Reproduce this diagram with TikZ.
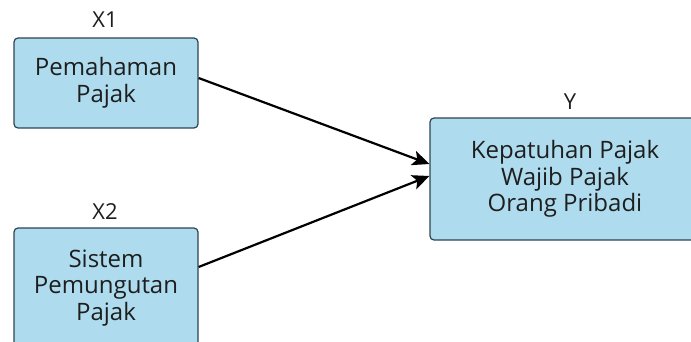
\documentclass[tikz,border=0pt]{standalone}
\usepackage{fontspec}
\setmainfont{Open Sans}
\usetikzlibrary{arrows.meta}
\definecolor{boxfill}{HTML}{AEDCEE}
\definecolor{boxline}{HTML}{2E4552}
\definecolor{txt}{HTML}{1E1E1E}
\tikzset{
  varbox/.style={draw=boxline, line width=1.2pt, fill=boxfill, rounded corners=4pt,
    align=center, text=txt, font=\fontsize{24}{26.5}\selectfont, inner sep=0pt},
  varlabel/.style={text=txt, font=\fontsize{22}{24}\selectfont, inner sep=0pt},
  conn/.style={line width=2.2pt, -{Stealth[length=17pt,width=15pt,inset=4pt]}}
}
\begin{document}
\begin{tikzpicture}[x=1pt,y=-1pt]
\useasboundingbox (0,0) rectangle (691,342);
\clip (0,0) rectangle (691,342);
\fill[white] (0,0) rectangle (691,342);
\node[varbox, minimum width=184pt, minimum height=90pt] (x1) at (106,83) {Pemahaman\\Pajak};
\node[varbox, minimum width=184pt, minimum height=120pt] (x2) at (106,288) {Sistem\\Pemungutan\\Pajak};
\node[varbox, minimum width=270pt, minimum height=122pt] (y) at (565,179) {Kepatuhan Pajak\\Wajib Pajak\\Orang Pribadi};
\node[varlabel] (lx1) at (105,20) {X1};
\node[varlabel] (lx2) at (105,212) {X2};
\node[varlabel] (ly) at (570,102) {Y};
\draw[conn] ([yshift=5pt]x1.east) -- ([yshift=15pt]y.west);
\draw[conn] ([yshift=21pt]x2.east) -- ([yshift=3pt]y.west);
\end{tikzpicture}
\end{document}
